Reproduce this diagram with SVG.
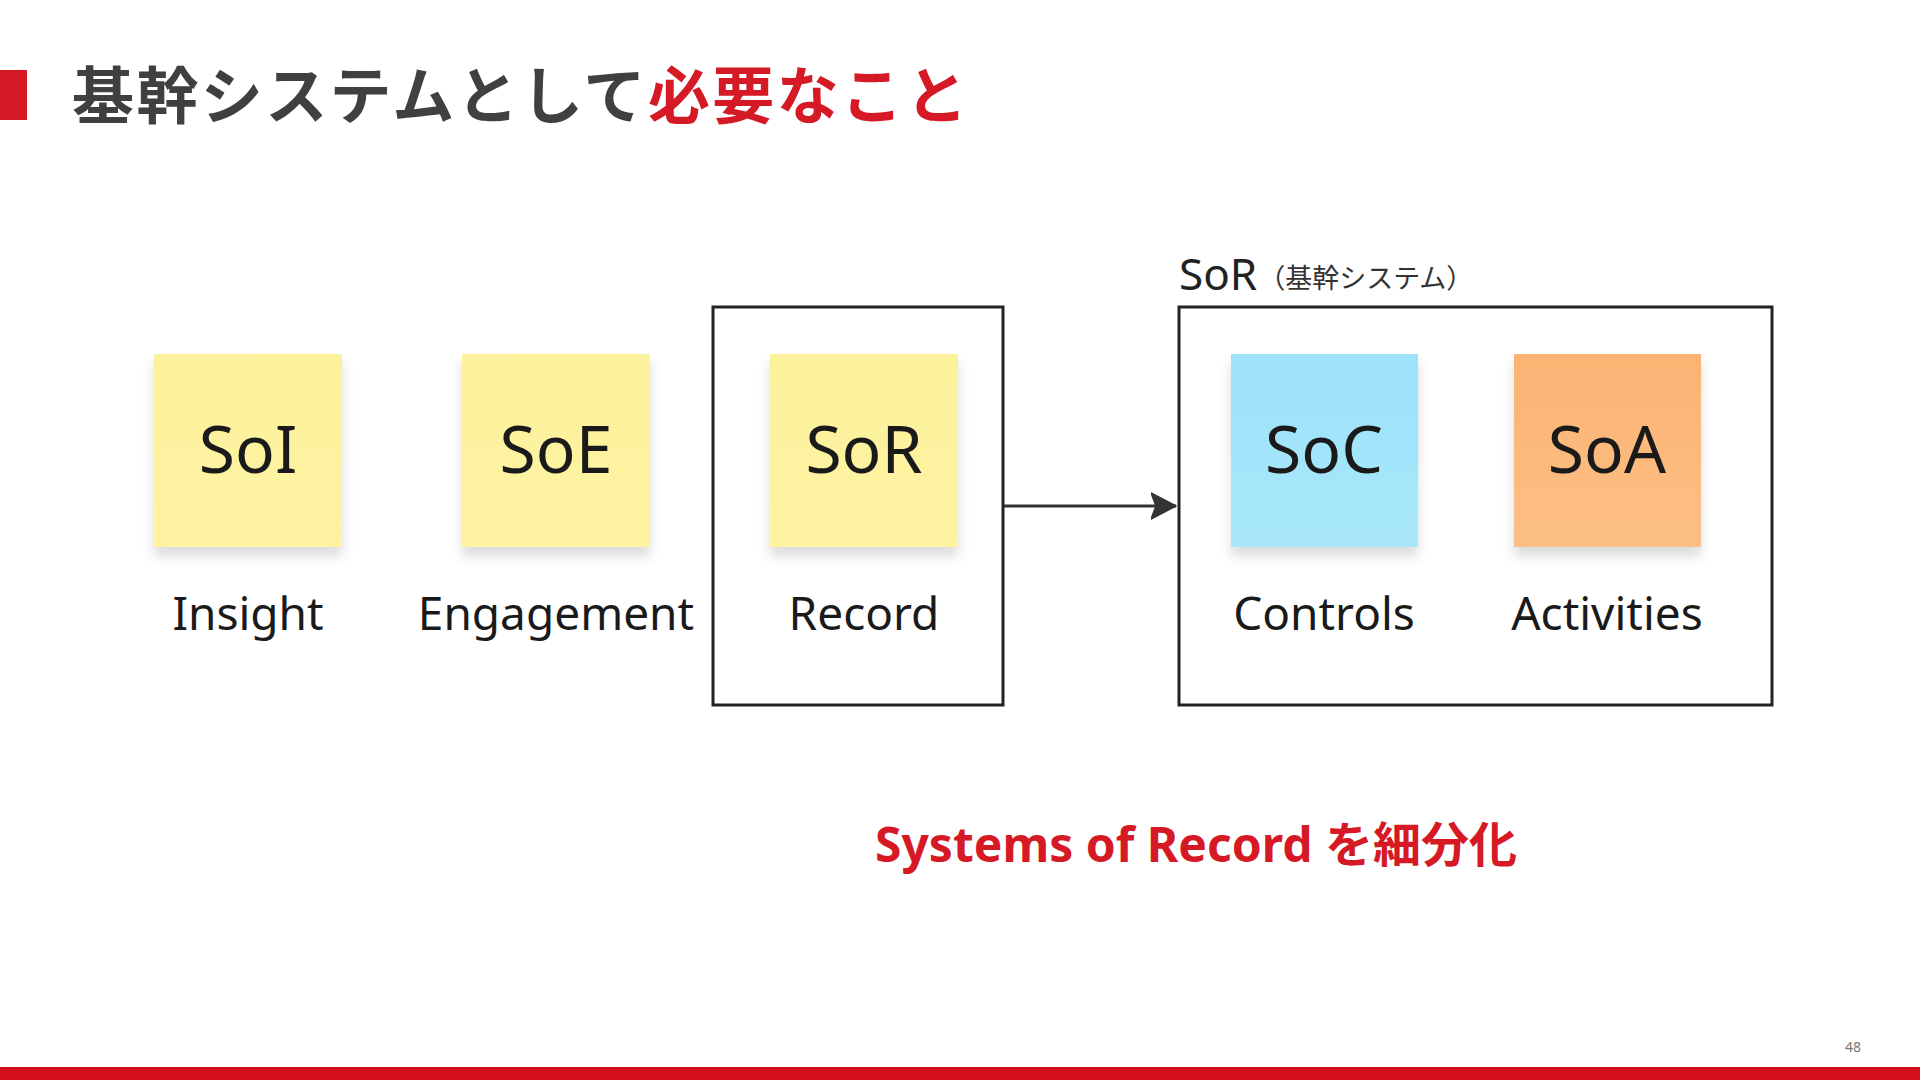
<svg xmlns="http://www.w3.org/2000/svg" width="1920" height="1080" viewBox="0 0 1920 1080">
<defs>
<style>
.note-text{font-family:"Noto Sans","Open Sans",sans-serif;font-size:66px;fill:#1a1a1a;text-anchor:middle}
.label{font-family:"Noto Sans","Open Sans",sans-serif;font-size:46px;fill:#1a1a1a;text-anchor:middle}
.frame{fill:none;stroke:#222;stroke-width:3}
.conn{fill:none;stroke:#333;stroke-width:3}
</style>
<filter id="shadow" x="-20%" y="-20%" width="140%" height="150%">
<feDropShadow dx="0" dy="9" stdDeviation="6" flood-color="#000" flood-opacity="0.14"/>
</filter>
<linearGradient id="gYellow" x1="0" y1="0" x2="0" y2="1">
<stop offset="0" stop-color="#fcf29c"/><stop offset="1" stop-color="#fdf3a2"/>
</linearGradient>
<linearGradient id="gBlue" x1="0" y1="0" x2="0" y2="1">
<stop offset="0" stop-color="#9de2f9"/><stop offset="1" stop-color="#a8e7fb"/>
</linearGradient>
<linearGradient id="gOrange" x1="0" y1="0" x2="0" y2="1">
<stop offset="0" stop-color="#fbb372"/><stop offset="1" stop-color="#fdbf85"/>
</linearGradient>
<marker id="arrow" viewBox="0 0 26 28" refX="25" refY="14" markerWidth="26" markerHeight="28" markerUnits="userSpaceOnUse" orient="auto">
<path d="M0,1 L25,14 L0,27 L5,14 Z" fill="#333" stroke="#333" stroke-width="1.5" stroke-linejoin="round"/>
</marker>
</defs>
<rect x="0" y="0" width="1920" height="1080" fill="#fff"/>

<g id="header">
<rect x="0" y="70" width="27" height="50" fill="#d51a26"/>
<text x="72" y="119" font-family="'Noto Sans CJK JP',sans-serif" font-weight="700" font-size="62" letter-spacing="2.4" fill="#404040">基幹システムとして<tspan fill="#d51a26">必要なこと</tspan></text>
</g>

<g id="frame-sor-left">
<rect class="frame" x="713" y="307" width="290" height="398"/>
</g>

<g id="frame-sor-right">
<rect class="frame" x="1179" y="307" width="593" height="398"/>
<text x="1179" y="290" font-family="'Noto Sans','Noto Sans CJK JP',sans-serif" font-size="44" fill="#222">SoR<tspan font-size="27" dx="1" dy="-2" fill="#333" font-family="'Noto Sans CJK JP',sans-serif">（基幹システム）</tspan></text>
</g>

<g id="node-soi">
<rect x="154" y="354" width="188" height="193" fill="url(#gYellow)" filter="url(#shadow)"/>
<text class="note-text" x="248" y="473">SoI</text>
<text class="label" x="248" y="630">Insight</text>
</g>

<g id="node-soe">
<rect x="462" y="354" width="188" height="193" fill="url(#gYellow)" filter="url(#shadow)"/>
<text class="note-text" x="556" y="473">SoE</text>
<text class="label" x="556" y="630">Engagement</text>
</g>

<g id="node-sor">
<rect x="770" y="354" width="188" height="193" fill="url(#gYellow)" filter="url(#shadow)"/>
<text class="note-text" x="864" y="473">SoR</text>
<text class="label" x="864" y="630">Record</text>
</g>

<g id="node-soc">
<rect x="1231" y="354" width="187" height="193" fill="url(#gBlue)" filter="url(#shadow)"/>
<text class="note-text" x="1324" y="473">SoC</text>
<text class="label" x="1324" y="630">Controls</text>
</g>

<g id="node-soa">
<rect x="1514" y="354" width="187" height="193" fill="url(#gOrange)" filter="url(#shadow)"/>
<text class="note-text" x="1607" y="473">SoA</text>
<text class="label" x="1607" y="630">Activities</text>
</g>

<g id="connectors">
<line class="conn" x1="1004" y1="506" x2="1176" y2="506" marker-end="url(#arrow)"/>
</g>

<g id="caption">
<text x="1196" y="862" text-anchor="middle" font-family="'Noto Sans','Noto Sans CJK JP',sans-serif" font-weight="700" font-size="48" fill="#d51a26">Systems of Record <tspan font-family="'Noto Sans CJK JP',sans-serif">を細分化</tspan></text>
</g>

<g id="footer">
<text x="1853" y="1052" text-anchor="middle" font-family="'Noto Sans',sans-serif" font-size="14" fill="#777">48</text>
<rect x="0" y="1067" width="1920" height="13" fill="#d20f1a"/>
</g>
</svg>
